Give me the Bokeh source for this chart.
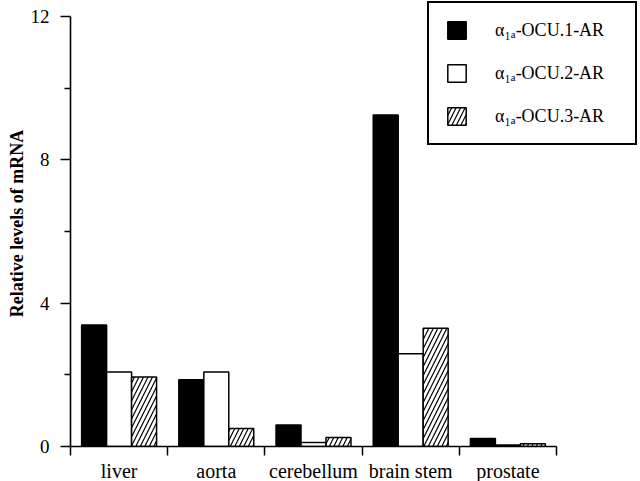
import numpy as np
from bokeh.plotting import figure
from bokeh.models import ColumnDataSource, FixedTicker, Range1d, Legend, LegendItem
from bokeh.embed import file_html
from bokeh.resources import INLINE

# ---- data ----
categories = ["liver", "aorta", "cerebellum", "brain stem", "prostate"]
ocu1 = [3.39, 1.86, 0.60, 9.25, 0.22]
ocu2 = [2.08, 2.08, 0.11, 2.59, 0.04]
ocu3 = [1.94, 0.50, 0.25, 3.30, 0.08]
series_labels = ["α₁ₐ-OCU.1-AR", "α₁ₐ-OCU.2-AR", "α₁ₐ-OCU.3-AR"]
y_major_ticks = [0, 4, 8, 12]
y_minor_ticks = [2, 6, 10]
y_label = "Relative levels of mRNA"

FONT = "Liberation Serif"
BAR_W = 0.257

centers = np.arange(len(categories)) + 0.5
src = ColumnDataSource(dict(
    x1=centers - BAR_W, x2=centers, x3=centers + BAR_W,
    y1=ocu1, y2=ocu2, y3=ocu3,
))

p = figure(frame_width=568, frame_height=446,
           min_border_left=70, min_border_right=2, min_border_top=0, min_border_bottom=35,
           x_range=Range1d(0, 568 / 97.2), y_range=Range1d(0, 446 / 35.83),
           output_backend="svg", toolbar_location=None,
           background_fill_color="white", border_fill_color="white")
p.outline_line_color = None
p.xgrid.visible = False
p.ygrid.visible = False

r1 = p.vbar(x="x1", top="y1", width=BAR_W, source=src, fill_color="black",
            line_color="black", line_width=1.5)
r2 = p.vbar(x="x2", top="y2", width=BAR_W, source=src, fill_color="white",
            line_color="black", line_width=1.5)
r3 = p.vbar(x="x3", top="y3", width=BAR_W, source=src, fill_color="white",
            line_color="black", line_width=1.5, hatch_pattern="/",
            hatch_color="black", hatch_weight=1.2, hatch_scale=9)

# x axis
xa = p.xaxis[0]
xa.ticker = FixedTicker(ticks=list(centers), minor_ticks=list(range(len(categories) + 1)))
xa.major_label_overrides = {float(c): name for c, name in zip(centers, categories)}
xa.bounds = (0, len(categories))
xa.major_tick_out = 0
xa.major_tick_in = 0
xa.minor_tick_out = 9
xa.minor_tick_in = 0
xa.minor_tick_line_width = 1.5
xa.minor_tick_line_color = "black"
xa.axis_line_width = 1.6
xa.axis_line_color = "black"
xa.major_label_text_font = FONT
xa.major_label_text_font_size = "20px"
xa.major_label_text_color = "black"
xa.major_label_standoff = 4

# y axis
ya = p.yaxis[0]
ya.ticker = FixedTicker(ticks=y_major_ticks, minor_ticks=y_minor_ticks)
ya.bounds = (0, 12)
ya.major_tick_out = 10
ya.major_tick_in = 0
ya.minor_tick_out = 6
ya.minor_tick_in = 0
ya.major_tick_line_width = 1.5
ya.minor_tick_line_width = 1.5
ya.major_tick_line_color = "black"
ya.minor_tick_line_color = "black"
ya.axis_line_width = 1.6
ya.axis_line_color = "black"
ya.major_label_text_font = FONT
ya.major_label_text_font_size = "19px"
ya.major_label_text_color = "black"
ya.major_label_standoff = 11
ya.axis_label = y_label
ya.axis_label_text_font = FONT
ya.axis_label_text_font_style = "bold"
ya.axis_label_text_font_size = "18px"
ya.axis_label_text_color = "black"
ya.axis_label_standoff = 1

legend = Legend(items=[LegendItem(label=series_labels[0], renderers=[r1]),
                       LegendItem(label=series_labels[1], renderers=[r2]),
                       LegendItem(label=series_labels[2], renderers=[r3])],
                location="top_right", margin=1,
                padding=16, spacing=21, glyph_width=23, glyph_height=22,
                label_standoff=27, label_width=124, label_height=22,
                label_text_font=FONT, label_text_font_size="18px",
                label_text_color="black",
                border_line_color="black", border_line_width=2, border_line_alpha=1.0,
                background_fill_color="white", background_fill_alpha=1.0)
p.add_layout(legend)

open("out.html", "w").write(file_html(p, INLINE))
